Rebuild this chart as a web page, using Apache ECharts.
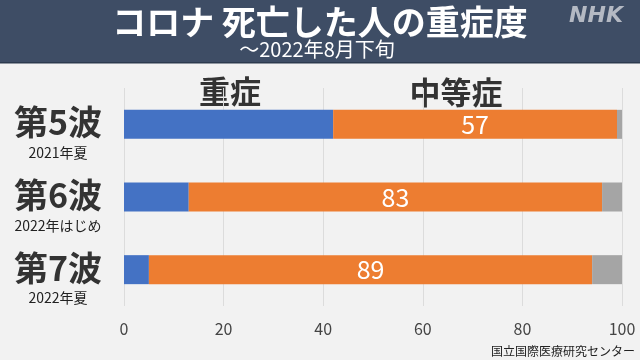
<!DOCTYPE html>
<html>
<head>
<meta charset="utf-8">
<script src="https://cdn.jsdelivr.net/npm/echarts@6/dist/echarts.min.js"></script>
<style>
html,body{margin:0;padding:0;background:#f2f2f2;}
#c{width:640px;height:360px;}
</style>
</head>
<body>
<div id="c"></div>
<script>
const waves = ['第5波', '第6波', '第7波'];
const periods = ['2021年夏', '2022年はじめ', '2022年夏'];
const severe = [42, 13, 5];
const moderate = [57, 83, 89];
const other = [1, 4, 6];
const seriesNames = ['重症', '中等症', 'その他'];
const xTicks = [0, 20, 40, 60, 80, 100];

const FONT = '"Noto Sans CJK JP", "Noto Sans", sans-serif';
const chart = echarts.init(document.getElementById('c'));

const categories = waves.map((w, i) => w + '\n' + periods[i]);

chart.setOption({
  backgroundColor: '#f2f2f2',
  animation: false,
  textStyle: { fontFamily: FONT },
  grid: { left: 124, right: 18, top: 88, height: 218, containLabel: false },
  xAxis: {
    type: 'value', min: xTicks[0], max: xTicks[xTicks.length - 1], interval: 20,
    axisLine: { show: false }, axisTick: { show: false },
    splitLine: { show: true, lineStyle: { color: '#dcdcdc', width: 1 } },
    axisLabel: { color: '#444', fontSize: 16, margin: 15, fontFamily: FONT }
  },
  yAxis: {
    type: 'category', inverse: true, data: categories,
    axisLine: { show: false }, axisTick: { show: false },
    axisLabel: {
      margin: 66, align: 'center', verticalAlign: 'middle',
      padding: [21, 0, 0, 0],
      formatter: function (v) {
        const p = v.split('\n');
        return '{a|' + p[0] + '}\n{b|' + p[1] + '}';
      },
      rich: {
        a: { fontSize: 34, fontWeight: 'bold', color: '#333', lineHeight: 36, fontFamily: FONT, align: 'center' },
        b: { fontSize: 14, color: '#222', lineHeight: 25, fontFamily: FONT, align: 'center' }
      }
    }
  },
  series: [
    { name: seriesNames[0], type: 'bar', stack: 's', data: severe, barWidth: 29,
      itemStyle: { color: '#4472c4' } },
    { name: seriesNames[1], type: 'bar', stack: 's', data: moderate, barWidth: 29,
      itemStyle: { color: '#ed7d31' },
      label: { show: true, position: 'inside', color: '#fff', fontSize: 25, fontFamily: FONT } },
    { name: seriesNames[2], type: 'bar', stack: 's', data: other, barWidth: 29,
      itemStyle: { color: '#a5a5a5' } }
  ],
  graphic: [
    { type: 'rect', left: 0, top: 0, shape: { width: 640, height: 62 }, style: { fill: '#3e4d65' }, silent: true },
    { type: 'rect', left: 0, top: 62, shape: { width: 640, height: 1.5 }, style: { fill: '#2c3a4e' }, silent: true },
    { type: 'text', x: 320, y: 22, style: { text: 'コロナ 死亡した人の重症度', fill: '#fff', font: 'bold 34px ' + FONT, textAlign: 'center', textVerticalAlign: 'middle' } },
    { type: 'text', x: 317, y: 49, style: { text: '〜2022年8月下旬', fill: '#fff', font: '20px ' + FONT, textAlign: 'center', textVerticalAlign: 'middle' } },
    { type: 'text', x: 596, y: 16, style: { text: 'NHK', fill: '#b4b9c3', font: 'italic bold 22px "DejaVu Sans", sans-serif', textAlign: 'center', textVerticalAlign: 'middle' } },
    { type: 'text', x: 230, y: 91, style: { text: seriesNames[0], fill: '#333', font: 'bold 31px ' + FONT, textAlign: 'center', textVerticalAlign: 'middle' } },
    { type: 'text', x: 456, y: 92, style: { text: seriesNames[1], fill: '#333', font: 'bold 31px ' + FONT, textAlign: 'center', textVerticalAlign: 'middle' } },
    { type: 'text', x: 635, y: 351, style: { text: '国立国際医療研究センター', fill: '#222', font: '12px ' + FONT, textAlign: 'right', textVerticalAlign: 'middle' } }
  ]
});
</script>
</body>
</html>
